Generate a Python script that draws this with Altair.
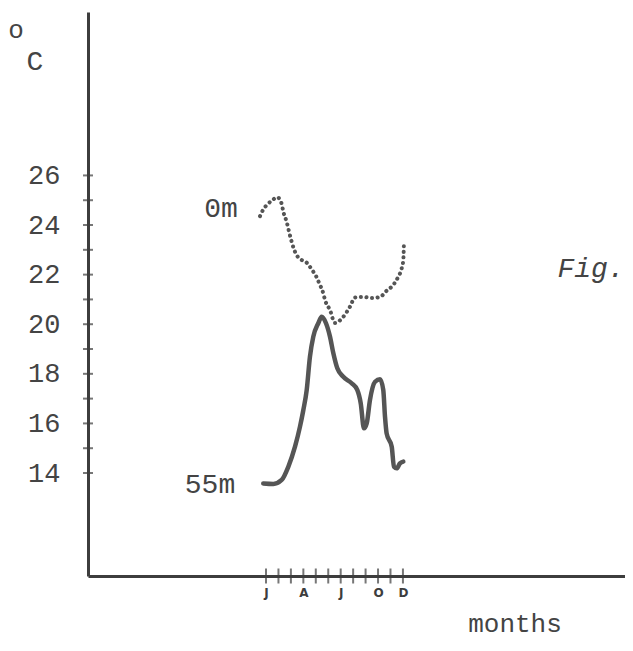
import altair as alt
import pandas as pd

# 0 m series (dotted)
month_0m = [0.52, 0.73, 1.06, 1.46, 1.91, 2.26, 2.39, 2.66, 2.87, 3.06, 3.25, 3.51, 3.87, 4.27,
            4.67, 5.02, 5.28, 5.60, 5.74, 6.14, 6.54, 7.21, 7.75, 8.15, 8.82, 9.49, 10.16,
            10.69, 11.22, 11.63, 11.90, 12.03, 12.08]
temp_0m = [24.36, 24.58, 24.81, 24.98, 25.12, 24.85, 24.54, 24.13, 23.69, 23.33, 23.02, 22.75,
           22.59, 22.48, 22.21, 21.94, 21.65, 21.25, 20.98, 20.57, 20.05, 20.30, 20.71, 21.08,
           21.10, 21.06, 21.10, 21.35, 21.58, 21.92, 22.25, 22.59, 23.23]

# 55 m series (solid)
month_55m = [0.78, 1.59, 2.26, 2.79, 3.33, 3.73, 4.00, 4.27, 4.53, 4.80, 5.20, 5.47, 5.82, 6.14,
             6.41, 6.73, 7.21, 7.88, 8.33, 8.61, 8.87, 9.09, 9.35, 9.76, 10.16, 10.42, 10.56,
             10.69, 11.10, 11.28, 11.50, 11.76, 12.03]
temp_55m = [13.58, 13.56, 13.72, 14.25, 15.06, 15.87, 16.54, 17.35, 18.69, 19.50, 20.04, 20.30,
            20.04, 19.50, 18.83, 18.22, 17.88, 17.62, 17.35, 16.81, 15.80, 16.00, 16.94, 17.68,
            17.78, 17.35, 16.27, 15.60, 15.06, 14.25, 14.19, 14.39, 14.46]

y_tick_values = list(range(14, 27))
y_label_values = [14, 16, 18, 20, 22, 24, 26]
month_ticks = list(range(1, 13))
month_label_values = [1, 4, 7, 10, 12]
month_label_text = ["J", "A", "J", "O", "D"]

FONT = "Liberation Mono"
INK = "#3d3d3d"

x_scale = alt.Scale(domain=[-13.3, 29.84], nice=False, zero=False)
y_scale = alt.Scale(domain=[9.847, 32.59], nice=False, zero=False)

label_map = "{" + ",".join(f"'{v}':'{t}'" for v, t in zip(month_label_values, month_label_text)) + "}"

x_axis = alt.Axis(values=month_label_values, labelExpr=f"{label_map}[datum.value]",
                  ticks=False, grid=False, domainWidth=3, domainColor=INK, labelFont="DejaVu Sans",
                  labelFontWeight="bold", labelFontSize=12, labelColor=INK, labelPadding=11, title=None)
y_axis = alt.Axis(values=y_label_values, ticks=False, grid=False, domainWidth=3, domainColor=INK,
                  labelFont=FONT, labelFontSize=27, labelColor="#444444", labelPadding=28, title=None)

df0 = pd.DataFrame({"month": month_0m, "temp": temp_0m})
df55 = pd.DataFrame({"month": month_55m, "temp": temp_55m})

line0 = alt.Chart(df0).mark_line(color="#555555", strokeWidth=4, strokeDash=[0.1, 5.5],
                                  strokeCap="round", interpolate="monotone").encode(
    x=alt.X("month:Q", scale=x_scale, axis=x_axis),
    y=alt.Y("temp:Q", scale=y_scale, axis=y_axis),
)
line55 = alt.Chart(df55).mark_line(color="#555555", strokeWidth=4.5, interpolate="monotone",
                                   strokeCap="round", strokeJoin="round").encode(
    x=alt.X("month:Q", scale=x_scale, axis=x_axis),
    y=alt.Y("temp:Q", scale=y_scale, axis=y_axis),
)

yticks = alt.Chart(pd.DataFrame({"t": y_tick_values})).mark_tick(
    orient="horizontal", size=10, thickness=2, color=INK).encode(
    y=alt.Y("t:Q", scale=y_scale, axis=y_axis), x=alt.value(0))
xticks = alt.Chart(pd.DataFrame({"m": month_ticks})).mark_tick(
    orient="vertical", size=15, thickness=2, color=INK).encode(
    x=alt.X("m:Q", scale=x_scale, axis=x_axis), y=alt.value(564))

# annotations: label, x/y in plot pixels, style, size, baseline
texts = [
    ("0m", 133, 197, "normal", 28, "middle"),
    ("55m", 122, 473, "normal", 28, "middle"),
    ("Fig.", 503, 265, "italic", 28, "alphabetic"),
    ("months", 427, 620, "normal", 26, "alphabetic"),
    ("o", -72, 18, "normal", 26, "middle"),
    ("C", -53, 50, "normal", 28, "middle"),
]

def text_layer(t):
    label, px, py, style, size, base = t
    return alt.Chart(pd.DataFrame({"label": [label]})).mark_text(
        font=FONT, fontSize=size, color="#444444", fontStyle=style, align="center", baseline=base).encode(
        text="label:N", x=alt.value(px), y=alt.value(py))

layers = [line0, line55, yticks, xticks] + [text_layer(t) for t in texts]

chart = alt.layer(*layers).properties(
    width=537, height=564,
    background="white",
    autosize=alt.AutoSizeParams(type="none"),
    padding={"left": 80, "top": 4, "right": 0, "bottom": 65},
).configure_view(stroke=None)

chart.save("out.html", embed_options={"renderer": "svg", "actions": False})
